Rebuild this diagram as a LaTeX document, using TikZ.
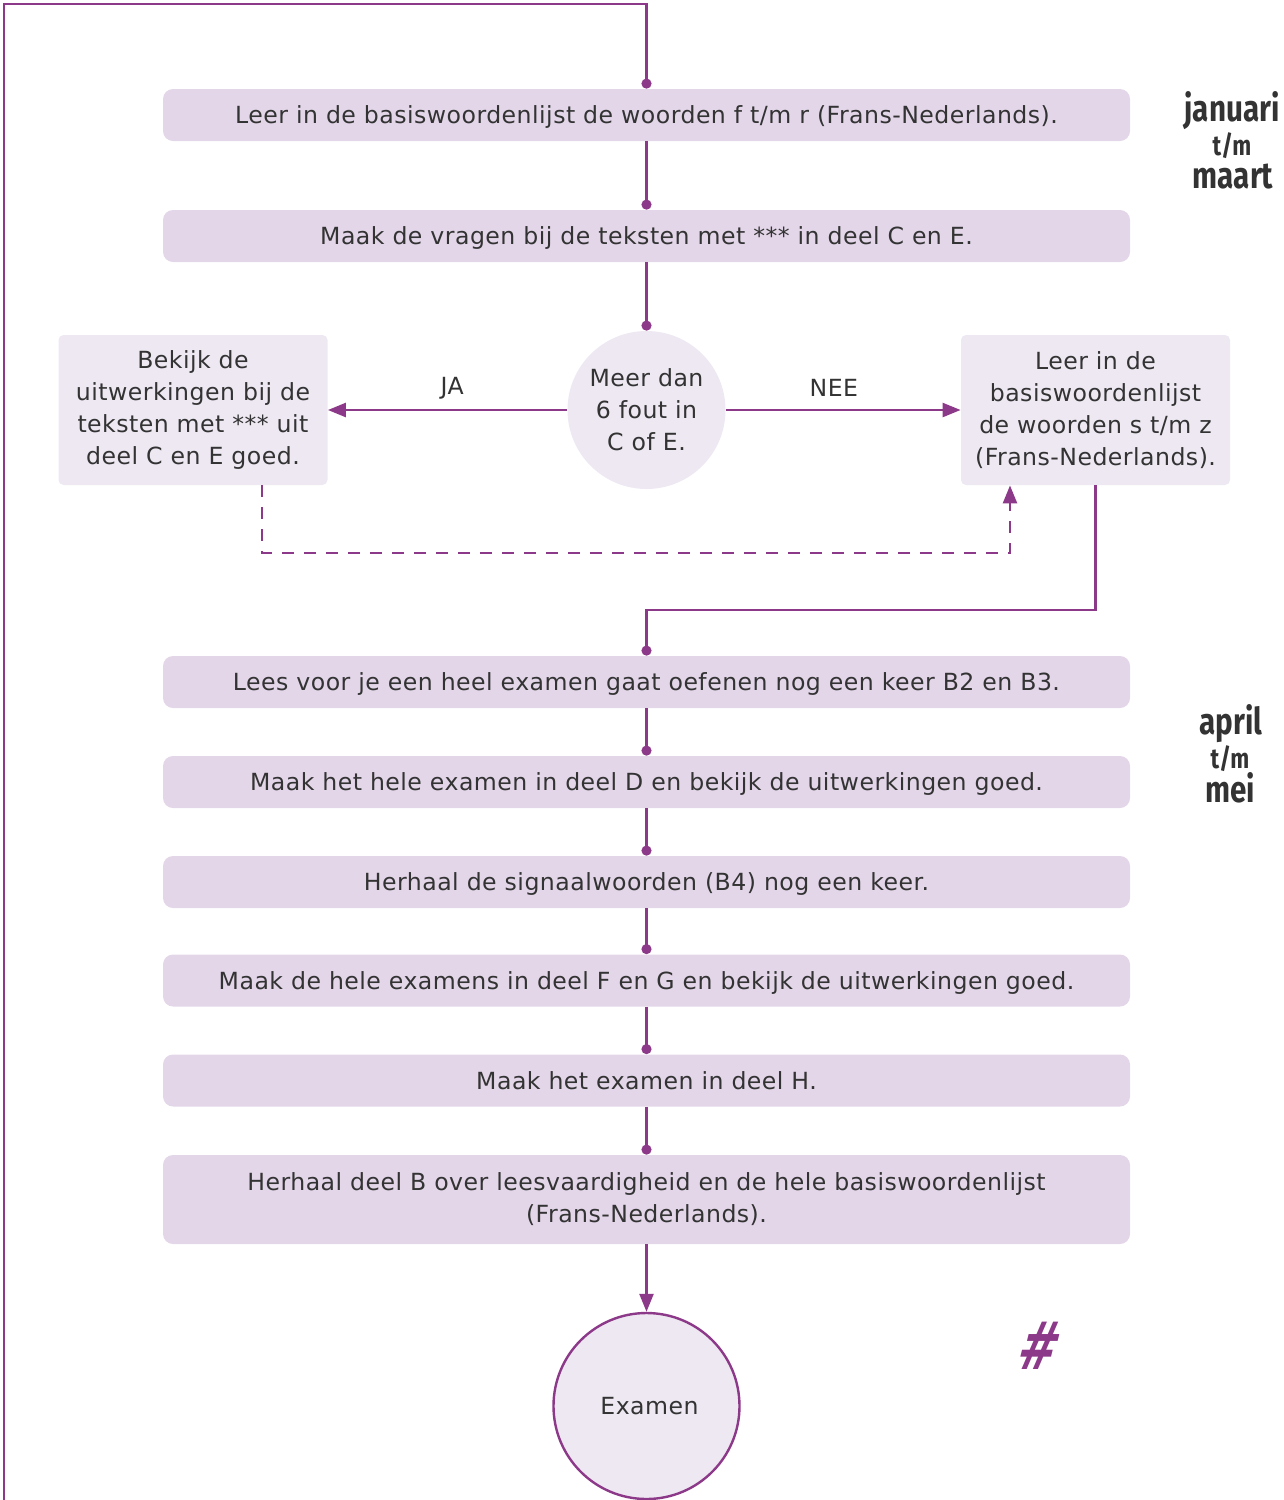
\documentclass[tikz,border=0pt]{standalone}
\usepackage{fontspec}
\setmainfont[LetterSpace=2]{DejaVu Sans}
\newfontfamily\condfont[FakeStretch=0.8]{Fira Sans}
\newfontfamily\hashfont[FakeSlant=0.25,FakeStretch=0.72]{DejaVu Sans}
\usetikzlibrary{arrows.meta}
\definecolor{lila}{RGB}{141,57,137}
\definecolor{boxdark}{RGB}{227,214,233}
\definecolor{boxlight}{RGB}{238,232,243}
\definecolor{txt}{RGB}{51,51,51}
\begin{document}
\begin{tikzpicture}[x=0.5pt,y=-0.5pt,
  every node/.style={text=txt, font=\fontsize{11.8}{16}\selectfont},
  stepbox/.style={fill=boxdark, rounded corners=5pt, minimum width=483.5pt, minimum height=26pt, inner sep=0pt, align=center, text height=9.5pt, text depth=1pt},
  tallbox/.style={fill=boxdark, rounded corners=5pt, minimum width=483.5pt, minimum height=44.5pt, inner sep=0pt, align=center},
  sidebox/.style={fill=boxlight, rounded corners=2.5pt, minimum width=134.5pt, minimum height=75pt, inner sep=0pt, align=center},
  conn/.style={draw=lila, line width=1.2pt},
  dotend/.style={conn, -{Circle[length=5pt]}},
  arr/.style={conn, -{Triangle[length=9pt,width=7pt]}},
  month/.style={text=txt, font=\condfont\bfseries\fontsize{18.5}{18.5}\selectfont, anchor=base},
  tm/.style={text=txt, font=\condfont\bfseries\fontsize{14}{14}\selectfont, anchor=base}
]
\useasboundingbox (0,0) rectangle (1284,1500);

% steps
\node[stepbox] (b1) at (646.5,115) {Leer in de basiswoordenlijst de woorden f t/m r (Frans-Nederlands).};
\node[stepbox] (b2) at (646.5,236) {Maak de vragen bij de teksten met *** in deel C en E.};
\node[circle, fill=boxlight, minimum size=79pt, inner sep=0pt, align=center] (dec) at (646.5,410) {Meer dan\\6 fout in\\C of E.};
\node[sidebox] (lb) at (193,410) {\raisebox{-2pt}{\parbox{130pt}{\centering Bekijk de\\uitwerkingen bij de\\teksten met *** uit\\deel C en E goed.}}};
\node[sidebox] (rb) at (1095.5,410) {\raisebox{-2pt}{\parbox{130pt}{\centering Leer in de\\basiswoordenlijst\\de woorden s t/m z\\(Frans-Nederlands).}}};
\node[stepbox] (b3) at (646.5,682) {Lees voor je een heel examen gaat oefenen nog een keer B2 en B3.};
\node[stepbox] (b4) at (646.5,782) {Maak het hele examen in deel D en bekijk de uitwerkingen goed.};
\node[stepbox] (b5) at (646.5,882) {Herhaal de signaalwoorden (B4) nog een keer.};
\node[stepbox] (b6) at (646.5,980.5) {Maak de hele examens in deel F en G en bekijk de uitwerkingen goed.};
\node[stepbox] (b7) at (646.5,1080.5) {Maak het examen in deel H.};
\node[tallbox] (b8) at (646.5,1199.5) {Herhaal deel B over leesvaardigheid en de hele basiswoordenlijst\\(Frans-Nederlands).};
\node[circle, draw=lila, line width=1.2pt, fill=boxlight, minimum size=93pt, inner sep=0pt] (ex) at (646.5,1406) {\hspace{3pt}Examen};

% month labels
\node[month] (jan) at (1232,121) {januari};
\node[tm] (tm1) at (1232,155) {t/m};
\node[month] (maa) at (1233,188) {maart};
\node[month] (apr) at (1231,734) {april};
\node[tm] (tm2) at (1230,768) {t/m};
\node[month] (mei) at (1230,802) {mei};

% hash
\node[text=lila, font=\hashfont\bfseries\fontsize{33}{33}\selectfont] (hash) at (1034,1346) {\#};

% loop line
\coordinate (loopbottom) at (4,1500);
\coordinate (looptl) at (4,4);
\coordinate (looptr) at (646.5,4);
\draw[dotend] (loopbottom) -- (looptl) -- (looptr) -- (b1.north);

% main connectors
\draw[dotend] (b1.south) -- (b2.north);
\draw[dotend] (b2.south) -- (dec.north);
\draw[arr] (dec.west) -- node[pos=0.48, yshift=11pt] (ja) {JA} (lb.east);
\draw[arr] (dec.east) -- node[pos=0.46, yshift=11pt] (nee) {NEE} (rb.west);

% dashed return
\coordinate (dl) at (262,553);
\coordinate (dr) at (1010,553);
\draw[conn, dash pattern=on 6pt off 5pt, -{Triangle[length=9pt,width=7pt]}]
  ([xshift=34.5pt]lb.south) -- (dl) -- (dr) -- ([xshift=-42.75pt]rb.south);

% right box to b3
\coordinate (elbow) at (646.5,610);
\draw[dotend] (rb.south) |- (elbow) -- (b3.north);

\draw[dotend] (b3.south) -- (b4.north);
\draw[dotend] (b4.south) -- (b5.north);
\draw[dotend] (b5.south) -- (b6.north);
\draw[dotend] (b6.south) -- (b7.north);
\draw[dotend] (b7.south) -- (b8.north);
\draw[arr] (b8.south) -- (ex.north);
\end{tikzpicture}
\end{document}
